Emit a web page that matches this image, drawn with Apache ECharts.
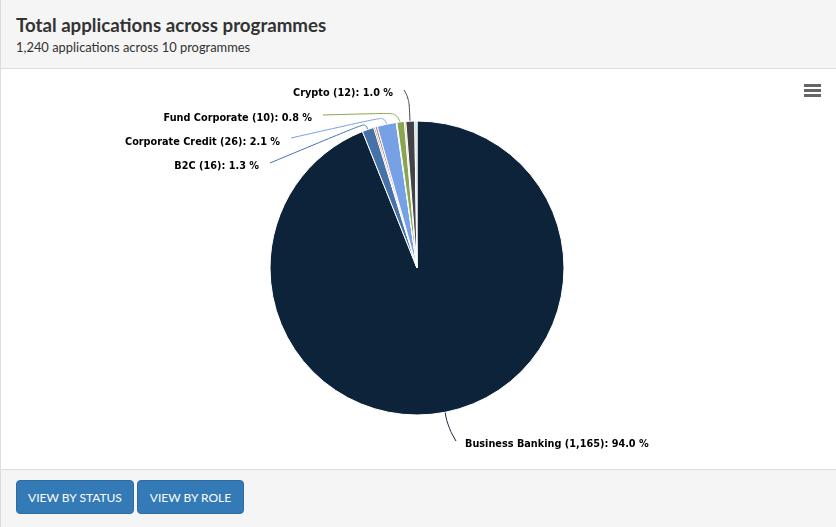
<!DOCTYPE html>
<html>
<head>
<meta charset="utf-8">
<title>Total applications across programmes</title>
<script src="https://cdn.jsdelivr.net/npm/echarts@6/dist/echarts.min.js"></script>
<style>
    html, body { margin: 0; padding: 0; background: #fff; overflow: hidden; }
    #panel { position: relative; width: 836px; height: 527px; box-sizing: border-box; border-left: 1px solid #ddd; font-family: Lato, sans-serif; color: #333; }
    #head { position: absolute; left: 0; top: 0; width: 835px; height: 68px; background: #f5f5f5; border-bottom: 1px solid #ddd; }
    #head h3 { position: absolute; left: 15px; top: 13px; margin: 0; font-size: 18.7px; line-height: 24px; font-weight: 700; }
    #head p { position: absolute; left: 15px; top: 39px; margin: 0; font-size: 12.9px; line-height: 17px; }
    #my_chart { position: absolute; left: -1px; top: 69px; width: 836px; height: 400px; }
    #foot { position: absolute; left: 0; top: 469px; width: 835px; height: 58px; background: #f5f5f5; border-top: 1px solid #ddd; box-sizing: border-box; }
    #foot a { position: absolute; top: 10px; height: 34px; line-height: 33px; box-sizing: border-box; text-align: center; background: #337ab7; border: 1px solid #2e6da4; border-radius: 4px; color: #fff; font-size: 12px; }
</style>
</head>
<body>
<div id="panel">
    <div id="head">
        <h3>Total applications across programmes</h3>
        <p>1,240 applications across 10 programmes</p>
    </div>
    <div id="my_chart"></div>
    <div id="foot">
        <a style="left:15px;width:118px">VIEW BY STATUS</a>
        <a style="left:136px;width:107px">VIEW BY ROLE</a>
    </div>
</div>
<script>
drawChart();

function drawChart() {
    var myChart = echarts.init(document.getElementById('my_chart'));

    // label spot and connector for each named slice, in chart pixels
    var callouts = {
        'Business Banking': { x: 465, y: 375, align: 'left', line: [[445, 343], [448, 358], [456, 372]] },
        'B2C': { x: 259, y: 97, align: 'right', line: [[270, 94], [366, 54], [368, 62]] },
        'Corporate Credit': { x: 280, y: 73, align: 'right', line: [[291, 69], [384, 48], [387, 56]] },
        'Fund Corporate': { x: 312, y: 49, align: 'right', line: [[323, 46], [396, 44], [400, 53]] },
        'Crypto': { x: 393, y: 24, align: 'right', line: [[404, 21], [409, 30], [410, 52]] }
    };

    var rows = [
        { name: 'Business Banking', value: 1165, color: '#0d233a' },
        { name: 'B2C', value: 16, color: '#4572a7' },
        { name: 'Retail', value: 2, color: '#aa4643' },
        { name: 'Mortgage', value: 3, color: '#a47d7c' },
        { name: 'Corporate Credit', value: 26, color: '#77a1e5' },
        { name: 'Treasury', value: 1, color: '#dddddd' },
        { name: 'Fund Corporate', value: 10, color: '#89a54e' },
        { name: 'Insurance', value: 2, color: '#c9a9a6' },
        { name: 'Crypto', value: 12, color: '#434348' },
        { name: 'Other', value: 3, color: '#c6d4e2' }
    ];
    var total = rows.reduce(function (s, r) { return s + r.value; }, 0);

    var option = {
        animation: false,
        graphic: [
            { type: 'rect', shape: { x: 804, y: 15, width: 17, height: 3 }, style: { fill: '#666' } },
            { type: 'rect', shape: { x: 804, y: 20, width: 17, height: 3 }, style: { fill: '#666' } },
            { type: 'rect', shape: { x: 804, y: 25, width: 17, height: 3 }, style: { fill: '#666' } }
        ],
        series: [
            {
                type: 'pie',
                center: [417, 199],
                radius: [0, 147],
                startAngle: 90,
                itemStyle: { borderColor: '#fff', borderWidth: 1 },
                label: {
                    show: true,
                    fontFamily: 'DejaVu Sans Condensed',
                    fontSize: 10.8,
                    fontWeight: 'bold',
                    color: '#000',
                    formatter: function (p) {
                        return p.name + ' (' + p.value.toLocaleString('en-US') + '): ' + (p.value / total * 100).toFixed(1) + ' %';
                    }
                },
                labelLine: { show: true, smooth: 0.4, lineStyle: { width: 1 } },
                labelLayout: function (p) {
                    var c = callouts[rows[p.dataIndex].name];
                    if (!c) { return {}; }
                    return { x: c.x, y: c.y, align: c.align, verticalAlign: 'middle', labelLinePoints: c.line };
                },
                data: rows.map(function (r) {
                    return {
                        name: r.name,
                        value: r.value,
                        itemStyle: { color: r.color },
                        label: { show: !!callouts[r.name] },
                        labelLine: { show: !!callouts[r.name] }
                    };
                })
            }
        ]
    };

    myChart.setOption(option);
}
</script>
</body>
</html>
